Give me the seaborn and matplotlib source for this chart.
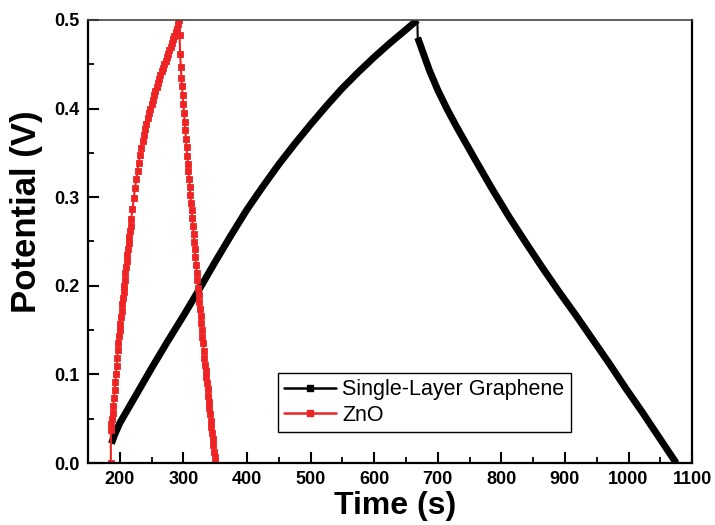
import matplotlib
matplotlib.use("Agg")
import matplotlib.pyplot as plt
from matplotlib.lines import Line2D
from matplotlib.ticker import MultipleLocator
import seaborn as sns
import pandas as pd

# Single-Layer Graphene: charge
g_charge_time = [187, 192, 200, 225, 250, 275, 300, 325, 350, 375, 400, 425, 450,
                 475, 500, 525, 550, 575, 600, 625, 650, 668]
g_charge_volt = [0.022, 0.032, 0.045, 0.076, 0.107, 0.137, 0.166, 0.196, 0.227,
                 0.257, 0.286, 0.312, 0.337, 0.360, 0.382, 0.403, 0.423, 0.441,
                 0.458, 0.474, 0.489, 0.500]
# Single-Layer Graphene: discharge
g_dis_time = [668.5, 675, 687, 700, 715, 730, 745, 760, 785, 812, 840, 865, 890, 917,
              945, 970, 995, 1022, 1048, 1075]
g_dis_volt = [0.480, 0.467, 0.443, 0.421, 0.399, 0.379, 0.360, 0.341, 0.310, 0.278,
              0.247, 0.220, 0.194, 0.167, 0.138, 0.112, 0.085, 0.057, 0.029, 0.000]

# ZnO charge
z_charge_time = [186, 186, 187, 188, 189, 190, 191, 192, 193, 194, 195, 196, 197, 198,
                 199, 200, 201, 202, 203, 204, 205, 206, 207, 208, 209, 210, 211,
                 212, 213, 214, 215, 216, 217, 218, 220, 222, 224, 226, 228, 230,
                 232, 234, 236, 238, 240, 242, 244, 246, 248, 250, 252, 254, 256,
                 258, 260, 262, 264, 266, 268, 270, 272, 274, 276, 278, 280, 282,
                 284, 286, 288, 290, 292, 293.5]
z_charge_volt = [0.000, 0.037, 0.044, 0.050, 0.057, 0.064, 0.073, 0.082, 0.092, 0.101,
                 0.110, 0.119, 0.128, 0.136, 0.143, 0.150, 0.157, 0.165, 0.172, 0.179,
                 0.186, 0.193, 0.200, 0.207, 0.214, 0.221, 0.228, 0.235, 0.241, 0.248,
                 0.255, 0.262, 0.268, 0.275, 0.287, 0.299, 0.310, 0.320, 0.330, 0.339,
                 0.348, 0.356, 0.363, 0.370, 0.377, 0.383, 0.389, 0.395, 0.400, 0.405,
                 0.410, 0.415, 0.420, 0.424, 0.429, 0.433, 0.438, 0.442, 0.446, 0.450,
                 0.454, 0.458, 0.462, 0.466, 0.470, 0.474, 0.478, 0.482, 0.486, 0.490,
                 0.495, 0.500]

# ZnO discharge
z_dis_time = [294, 295, 296, 297, 298, 299, 300, 301, 302, 303, 304, 305, 306, 307,
              308, 309, 310, 311, 312, 313, 314, 315, 316, 317, 318, 319, 320, 321,
              322, 323, 324, 325, 326, 327, 328, 329, 330, 331, 332, 333, 334, 335,
              336, 337, 338, 339, 340, 341, 342, 343, 344, 345, 346, 347, 348, 349, 350]
z_dis_volt = [0.483, 0.462, 0.447, 0.435, 0.425, 0.415, 0.405, 0.395, 0.385, 0.376,
              0.366, 0.357, 0.347, 0.338, 0.329, 0.320, 0.311, 0.302, 0.294, 0.286,
              0.277, 0.268, 0.259, 0.250, 0.241, 0.232, 0.224, 0.215, 0.206, 0.198,
              0.190, 0.182, 0.174, 0.166, 0.158, 0.150, 0.142, 0.135, 0.127, 0.119,
              0.111, 0.104, 0.097, 0.090, 0.083, 0.076, 0.069, 0.062, 0.055, 0.048,
              0.041, 0.034, 0.027, 0.020, 0.013, 0.007, 0.000]

x_ticks = [200, 300, 400, 500, 600, 700, 800, 900, 1000, 1100]
y_ticks = [0.0, 0.1, 0.2, 0.3, 0.4, 0.5]
labels = ["Single-Layer Graphene", "ZnO"]

sns.set_theme(style="white")
plt.rcParams['font.family'] = ['Liberation Sans', 'DejaVu Sans']
plt.rcParams['text.color'] = 'black'
plt.rcParams['axes.labelcolor'] = 'black'
plt.rcParams['xtick.color'] = 'black'
plt.rcParams['ytick.color'] = 'black'

RED = "#ee2424"

gc_df = pd.DataFrame({"t": g_charge_time, "v": g_charge_volt})
gd_df = pd.DataFrame({"t": g_dis_time, "v": g_dis_volt})
z_t = z_charge_time + z_dis_time
z_v = z_charge_volt + z_dis_volt
z_df = pd.DataFrame({"t": z_t, "v": z_v})

fig = plt.figure(figsize=(7.15, 5.25), dpi=100)
ax = fig.add_axes([0.123, 0.118, 0.845, 0.844])

# thin IR-drop link between graphene charge and discharge
ax.plot([g_charge_time[-1], g_dis_time[0]], [g_charge_volt[-1], g_dis_volt[0]],
        color="black", linewidth=1.5)
for df in (gc_df, gd_df):
    sns.lineplot(data=df, x="t", y="v", sort=False, estimator=None, ax=ax,
                 color="black", linewidth=5, solid_joinstyle="round", solid_capstyle="butt")
sns.lineplot(data=z_df, x="t", y="v", sort=False, estimator=None, ax=ax,
             color=RED, linewidth=1.5, marker="s", markersize=4.2,
             markeredgewidth=0.6, markeredgecolor=RED)

ax.set_xlim(150, 1100)
ax.set_ylim(0.0, 0.5)
ax.set_xticks(x_ticks)
ax.set_yticks(y_ticks)
ax.set_yticklabels([f"{v:.1f}" for v in y_ticks])
ax.xaxis.set_minor_locator(MultipleLocator(50))
ax.yaxis.set_minor_locator(MultipleLocator(0.05))
ax.tick_params(axis="both", which="major", direction="in", length=8, width=1.5,
               labelsize=13, colors="black", bottom=True, left=True, top=False, right=False, pad=6)
ax.tick_params(axis="both", which="minor", direction="in", length=4.5, width=1.3,
               bottom=True, left=True, top=False, right=False)
for lab in ax.get_xticklabels() + ax.get_yticklabels():
    lab.set_fontweight("bold")

for side in ["left", "bottom", "right"]:
    ax.spines[side].set_color("black")
    ax.spines[side].set_linewidth(1.6)
ax.spines["top"].set_color("#444444")
ax.spines["top"].set_linewidth(1.2)

ax.set_xlabel("Time (s)", fontsize=23, fontweight="bold", color="black")
ax.xaxis.set_label_coords(0.508, -0.062)
ax.set_ylabel("Potential (V)", fontsize=25, fontweight="bold", color="black")
ax.yaxis.set_label_coords(-0.075, 0.567)

handles = [Line2D([], [], color="black", linewidth=1.8, marker="s", markersize=4),
           Line2D([], [], color=RED, linewidth=1.8, marker="s", markersize=4)]
leg = ax.legend(handles, labels, loc="lower left",
                bbox_to_anchor=(0.315, 0.07), borderaxespad=0, fontsize=15.5,
                frameon=True, fancybox=False, edgecolor="black", framealpha=1,
                handlelength=2.4, handletextpad=0.3, borderpad=0.28, labelspacing=0.22)
leg.get_frame().set_linewidth(1.0)
for t in leg.get_texts():
    t.set_color("black")

fig.savefig("out.png", dpi=100)
